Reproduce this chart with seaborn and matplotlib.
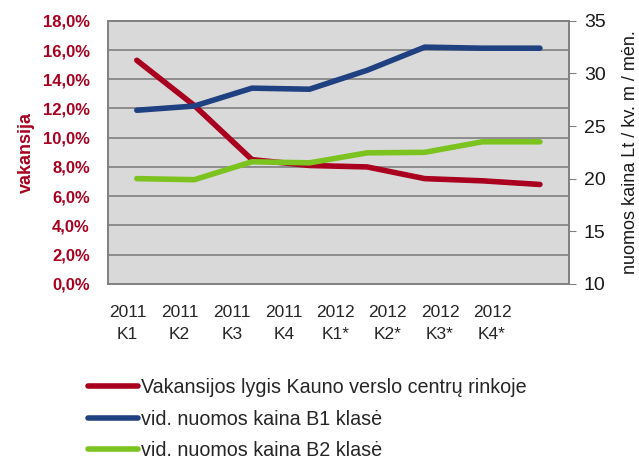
import numpy as np
import pandas as pd
import matplotlib.pyplot as plt
import seaborn as sns
from matplotlib.ticker import FuncFormatter

# data
quarters = ["2011\nK1", "2011\nK2", "2011\nK3", "2011\nK4",
            "2012\nK1*", "2012\nK2*", "2012\nK3*", "2012\nK4*"]
vacancy = [15.3, 12.2, 8.5, 8.1, 8.0, 7.2, 7.05, 6.8]      # %
rent_b1 = [26.5, 26.9, 28.6, 28.5, 30.3, 32.5, 32.4, 32.4]  # Lt / kv. m / men.
rent_b2 = [20.0, 19.9, 21.6, 21.5, 22.45, 22.5, 23.5, 23.5]

labels = ["Vakansijos lygis Kauno verslo centrų rinkoje",
          "vid. nuomos kaina B1 klasė",
          "vid. nuomos kaina B2 klasė"]

RED = "#a8001e"
BLUE = "#1f4181"
GREEN = "#7dc31f"

df = pd.DataFrame({"pos": range(len(quarters)), "vacancy": vacancy,
                   "b1": rent_b1, "b2": rent_b2})

sns.set_style("white")
plt.rcParams['font.family'] = ['Liberation Sans', 'DejaVu Sans']

fig = plt.figure(figsize=(6.39, 4.63), dpi=100)
ax = fig.add_axes([0.169, 0.387, 0.721, 0.568])
ax.set_facecolor("#d9d9d9")
ax2 = ax.twinx()

sns.lineplot(data=df, x="pos", y="vacancy", ax=ax, color=RED, linewidth=4,
             solid_capstyle="round", solid_joinstyle="round", label=labels[0], legend=False)
sns.lineplot(data=df, x="pos", y="b1", ax=ax2, color=BLUE, linewidth=4,
             solid_capstyle="round", solid_joinstyle="round", label=labels[1], legend=False)
sns.lineplot(data=df, x="pos", y="b2", ax=ax2, color=GREEN, linewidth=4,
             solid_capstyle="round", solid_joinstyle="round", label=labels[2], legend=False)

# left axis
ax.set_xlim(-0.5, 7.5)
ax.set_ylim(0, 18)
ax.set_yticks(range(0, 19, 2))
ax.yaxis.set_major_formatter(FuncFormatter(lambda v, p: f"{v:.1f}%".replace(".", ",")))
ax.grid(axis="y", color="#808080", linewidth=1.2)
ax.set_axisbelow(True)
ax.tick_params(axis="y", length=0, pad=13, labelsize=12, labelcolor=RED)
for t in ax.get_yticklabels():
    t.set_fontweight("bold")
ax.set_ylabel("vakansija", color=RED, fontsize=13, fontweight="bold", labelpad=6)

# category labels sit a bit left of the points in the original, packed tighter
ax.set_xticks(np.arange(len(quarters)) * 0.904 - 0.16)
ax.set_xticklabels(quarters, fontsize=12.5, linespacing=1.6)
ax.tick_params(axis="x", length=0, pad=15)
ax.set_xlabel("")

# right axis
ax2.set_ylim(10, 35)
ax2.set_yticks(range(10, 36, 5))
ax2.tick_params(axis="y", length=5, color="#808080", labelsize=14, pad=6, labelcolor="#1a1a1a")
ax2.set_ylabel("nuomos kaina Lt / kv. m / mėn.", fontsize=13, color="#1a1a1a", labelpad=12)
ax2.grid(False)

for a in (ax, ax2):
    for s in a.spines.values():
        s.set_color("#808080")
        s.set_linewidth(1.2)

h1, l1 = ax.get_legend_handles_labels()
h2, l2 = ax2.get_legend_handles_labels()
fig.legend(h1 + h2, l1 + l2, loc="upper left", bbox_to_anchor=(0.125, 0.2),
           frameon=False, fontsize=14.2, handlelength=2.55, handletextpad=0.15,
           labelspacing=0.62, borderaxespad=0)

fig.savefig("out.png", dpi=100)
